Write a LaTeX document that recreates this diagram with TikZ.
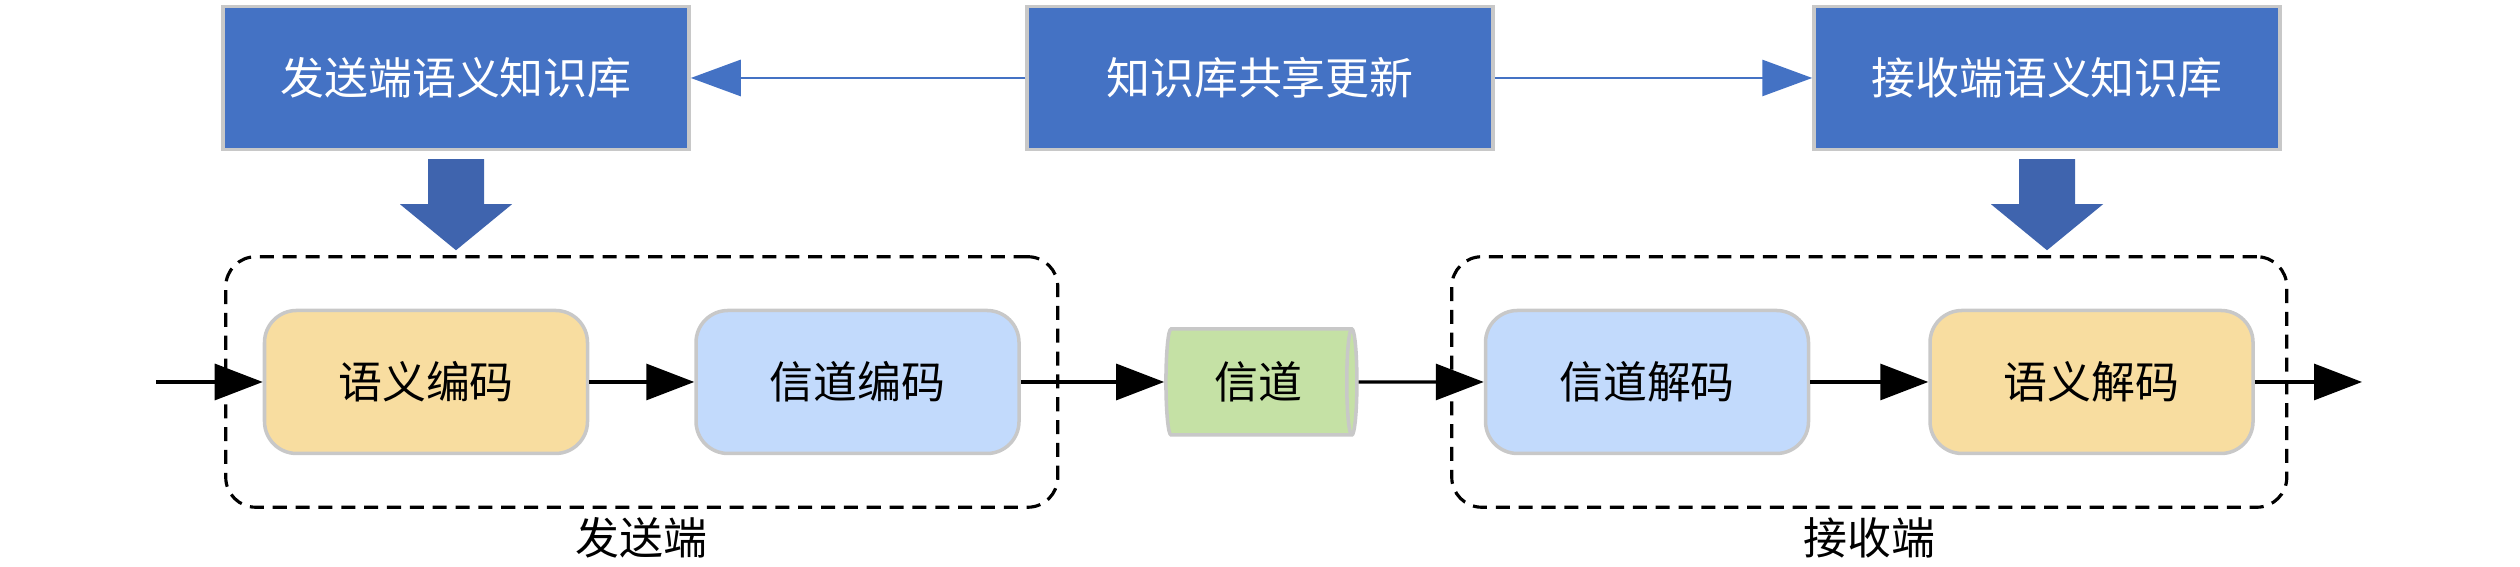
\documentclass[tikz,border=0pt]{standalone}
\usepackage{fontspec}
\setmainfont{Noto Sans CJK SC}
\usepackage{xcolor}
\usepackage{tikz}
\usetikzlibrary{arrows.meta,positioning,shapes.geometric,fit,calc}
\definecolor{kbblue}{HTML}{4472C4}
\definecolor{arrowblue}{HTML}{3F64AE}
\definecolor{semfill}{HTML}{F8DDA0}
\definecolor{chnfill}{HTML}{C2DAFC}
\definecolor{pipefill}{HTML}{C5E1A5}
\definecolor{edgegray}{HTML}{C8C8C8}
\tikzset{
  kb/.style={draw=edgegray, line width=1pt, fill=kbblue, text=white, minimum width=46.6mm, minimum height=14.3mm, inner sep=0pt},
  block/.style={draw=edgegray, line width=1pt, rounded corners=3.2mm, minimum width=32.3mm, minimum height=14.3mm, inner sep=0pt},
  sem/.style={block, fill=semfill},
  chn/.style={block, fill=chnfill},
  pipe/.style={cylinder, draw=edgegray, line width=1pt, fill=pipefill, aspect=0.25, minimum width=10.6mm, minimum height=19.1mm, inner sep=0pt},
  group/.style={draw, rounded corners=3mm, line width=0.9pt, dash pattern=on 4pt off 2.5pt},
  arrow/.style={-{Triangle[length=4.8mm, width=3.6mm]}, line width=0.9pt},
  kbarrow/.style={-{Triangle[length=5mm, width=3.6mm]}, line width=0.8pt, draw=kbblue},
  bigarrow/.style={fill=arrowblue}
}

\begin{document}
\begin{tikzpicture}[font=\fontsize{12.5}{15}\selectfont]
    \useasboundingbox (0,0) rectangle (25.2,5.67);
    % knowledge bases
    \node[kb] (kbs) at (4.56,4.89) {发送端语义知识库};
    \node[kb] (share) at (12.60,4.89) {知识库共享更新};
    \node[kb] (kbr) at (20.47,4.89) {接收端语义知识库};

    % processing chain
    \node[sem] (senc) at (4.26,1.85) {语义编码};
    \node[chn, right=10.5mm of senc] (cenc) {信道编码};
    \node[pipe] (chan) at (12.58,1.85) {信道};
    \node[chn] (cdec) at (16.47,1.85) {信道解码};
    \node[sem, right=11.8mm of cdec] (sdec) {语义解码};

    % sender / receiver
    \node[group, fit=(senc)(cenc), inner xsep=3.7mm, inner ysep=5.2mm] (tx) {};
    \node[group, fit=(cdec)(sdec), inner xsep=3.2mm, inner ysep=5.2mm] (rx) {};
    \node[below=-0.4mm of tx] (txlabel) {发送端};
    \node[below=-0.4mm of rx] (rxlabel) {接收端};

    % big arrows
    \fill[bigarrow] ([yshift=-0.08cm]kbs.south) ++(-0.28,0) -- ++(0.56,0) -- ++(0,-0.45) -- ++(0.28,0) -- ++(-0.56,-0.46) -- ++(-0.56,0.46) -- ++(0.28,0) -- cycle;
    \fill[bigarrow] ([yshift=-0.08cm]kbr.south) ++(-0.28,0) -- ++(0.56,0) -- ++(0,-0.45) -- ++(0.28,0) -- ++(-0.56,-0.46) -- ++(-0.56,0.46) -- ++(0.28,0) -- cycle;

    % arrows
    \coordinate (in) at (1.56,1.85);
    \coordinate (out) at (23.62,1.85);
    \draw[kbarrow] (share) -- (kbs);
    \draw[kbarrow] (share) -- (kbr);
    \draw[arrow] (in) -- (senc);
    \draw[arrow] (senc) -- (cenc);
    \draw[arrow] (cenc) -- (chan);
    \draw[arrow] (chan) -- (cdec);
    \draw[arrow] (cdec) -- (sdec);
    \draw[arrow] (sdec) -- (out);
\end{tikzpicture}
\end{document}
